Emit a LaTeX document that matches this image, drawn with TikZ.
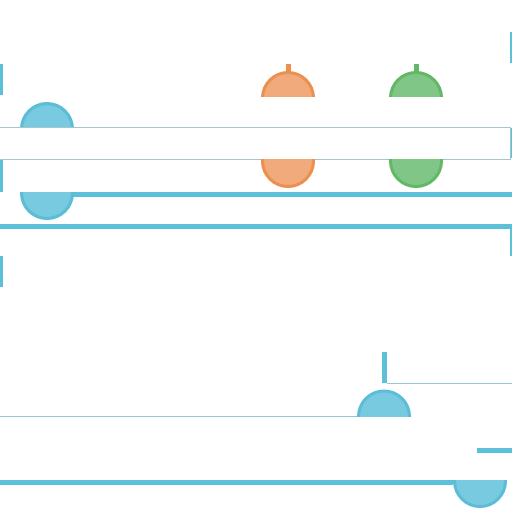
\documentclass[tikz,border=0pt]{standalone}
\definecolor{barc}{HTML}{5BC0D8}
\definecolor{bfill}{HTML}{77CADF}
\definecolor{bline}{HTML}{5BBDD6}
\definecolor{ofill}{HTML}{F0AA7C}
\definecolor{oline}{HTML}{EB904F}
\definecolor{gfill}{HTML}{80C787}
\definecolor{gline}{HTML}{63B866}
\definecolor{thinc}{HTML}{96C9D4}
\definecolor{boxc}{HTML}{A6C6CE}
\begin{document}
\begin{tikzpicture}[x=1pt,y=-1pt,
  bar/.style={fill=barc,draw=none},
  thinline/.style={draw=thinc,line width=0.9pt},
  bcirc/.style={draw=bline,fill=bfill,line width=3pt},
  ocirc/.style={draw=oline,fill=ofill,line width=3pt},
  gcirc/.style={draw=gline,fill=gfill,line width=3pt}]
\useasboundingbox (0,0) rectangle (512,512);
\fill[white] (0,0) rectangle (512,512);
% left edge bars
\fill[bar] (0,64) rectangle (2.5,95);
\fill[bar] (0,160) rectangle (2.5,192);
\fill[bar] (0,256) rectangle (2.5,287);
% right edge bars
\fill[bar] (509.5,32) rectangle (512,63);
\fill[bar] (509.5,128) rectangle (512,158);
\fill[bar] (509.5,224) rectangle (512,256);
% stems
\fill[oline] (286,64) rectangle (291,73);
\fill[gline] (413.5,64) rectangle (418.5,73);
% top caps
\begin{scope}\clip (0,60) rectangle (512,96);
  \draw[ocirc] (288,98) circle[radius=25.5];
  \draw[gcirc] (416,98) circle[radius=25.5];
\end{scope}
\begin{scope}\clip (0,90) rectangle (512,127);
  \draw[bcirc] (47,129) circle[radius=25.5];
\end{scope}
% central box
\draw[draw=boxc,line width=0.9pt,fill=white] (-2,127.5) rectangle (510,159);
% bottom caps
\begin{scope}\clip (0,159.5) rectangle (512,200);
  \draw[ocirc] (288,161) circle[radius=25.5];
  \draw[gcirc] (416,161) circle[radius=25.5];
\end{scope}
% thick lines
\fill[bar] (47,192) rectangle (512,196.5);
\fill[bar] (0,224) rectangle (512,228.5);
\begin{scope}\clip (0,192) rectangle (512,230);
  \draw[bcirc] (47,193) circle[radius=25.5];
\end{scope}
% lower part
\fill[bar] (381.5,352) rectangle (386.5,383);
\draw[thinline] (386.5,383) -- (512,383);
\draw[thinline] (0,416) -- (384,416);
\begin{scope}\clip (300,380) rectangle (450,416);
  \draw[bcirc] (384,416.5) circle[radius=25.5];
\end{scope}
\fill[bar] (477,448) rectangle (512,453);
\fill[bar] (0,480) rectangle (453,484.5);
\begin{scope}\clip (440,480) rectangle (512,512);
  \draw[bcirc] (480,481) circle[radius=25.5];
\end{scope}
\end{tikzpicture}
\end{document}
